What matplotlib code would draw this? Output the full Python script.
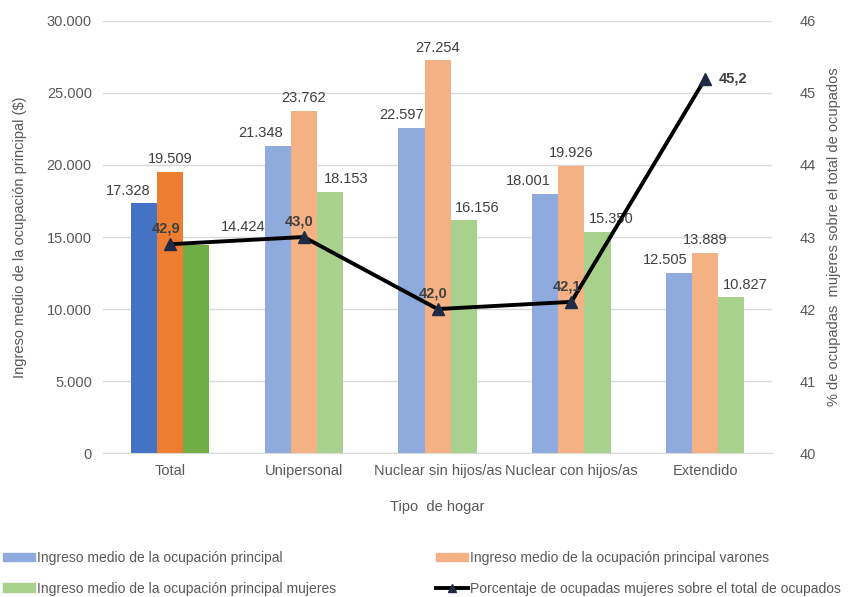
import numpy as np
import matplotlib.pyplot as plt

plt.rcParams['font.family'] = ['Liberation Sans', 'DejaVu Sans']

categorias = ["Total", "Unipersonal", "Nuclear sin hijos/as", "Nuclear con hijos/as", "Extendido"]
ingreso_total = [17328, 21348, 22597, 18001, 12505]
ingreso_varones = [19509, 23762, 27254, 19926, 13889]
ingreso_mujeres = [14424, 18153, 16156, 15350, 10827]
pct_mujeres = [42.9, 43.0, 42.0, 42.1, 45.2]

def fmt_miles(v):
    return f"{v:,.0f}".replace(",", ".")

gris = "#595959"
x = np.arange(len(categorias))
ancho = 0.195

fig = plt.figure(figsize=(8.58, 5.97), dpi=100)
ax = fig.add_axes([0.120, 0.241, 0.780, 0.724])
ax2 = ax.twinx()

col_fuerte = ["#4472C4", "#ED7D31", "#70AD47"]
col_claro = ["#8FAADC", "#F4B183", "#A9D18E"]
series = [ingreso_total, ingreso_varones, ingreso_mujeres]
nombres = ["Ingreso medio de la ocupación principal",
           "Ingreso medio de la ocupación principal varones",
           "Ingreso medio de la ocupación principal mujeres"]
# desplazamiento horizontal (pt) de las etiquetas de cada serie
desplaz = [[-11, -12, -7, -12, -10],
           [0, 0, 0, 0, 0],
           [34, 12, 10, 10, 10]]

barras = []
for k, datos in enumerate(series):
    colores = [col_fuerte[k]] + [col_claro[k]] * (len(categorias) - 1)
    b = ax.bar(x + (k - 1) * ancho, datos, ancho, color=colores, label=nombres[k], zorder=2)
    barras.append(b)
    for i, (xi, v) in enumerate(zip(x + (k - 1) * ancho, datos)):
        dy = 8 if (k == 2 and i == 0) else 4
        ax.annotate(fmt_miles(v), (xi, v), xytext=(desplaz[k][i], dy),
                    textcoords="offset points", ha="center", va="bottom",
                    fontsize=10.5, color="#404040")

ax.set_ylim(0, 30000)
ax.set_yticks(np.arange(0, 30001, 5000))
ax.set_yticklabels([fmt_miles(v) for v in np.arange(0, 30001, 5000)])
ax.set_xlim(-0.5, len(categorias) - 0.5)
ax.set_xticks(x)
ax.set_xticklabels(categorias)
ax.grid(axis="y", color="#D9D9D9", linewidth=1, zorder=0)
ax.set_axisbelow(True)
for s in ["top", "right", "left"]:
    ax.spines[s].set_visible(False)
ax.spines["bottom"].set_color("#D9D9D9")
ax.tick_params(axis="both", length=0, colors=gris, labelsize=10.5, pad=8)
ax.set_ylabel("Ingreso medio de la ocupación principal ($)", color=gris, fontsize=10.5, labelpad=14)
ax.set_xlabel("Tipo  de hogar", color=gris, fontsize=10.5, labelpad=16)

linea, = ax2.plot(x, pct_mujeres, color="black", linewidth=2.8, marker="^",
                  markersize=9, markerfacecolor="#1F2A44", markeredgecolor="#1F2A44",
                  label="Porcentaje de ocupadas mujeres sobre el total de ocupados", zorder=3)
for i, v in enumerate(pct_mujeres):
    txt = f"{v:.1f}".replace(".", ",")
    if i == len(pct_mujeres) - 1:
        ax2.annotate(txt, (x[i], v), xytext=(10, 0), textcoords="offset points",
                     ha="left", va="center", fontsize=10.5, fontweight="bold", color="#404040")
    else:
        ax2.annotate(txt, (x[i], v), xytext=(-3, 6), textcoords="offset points",
                     ha="center", va="bottom", fontsize=10.5, fontweight="bold", color="#404040")
ax2.set_ylim(40, 46)
ax2.set_yticks(range(40, 47))
for s in ["top", "right", "left", "bottom"]:
    ax2.spines[s].set_visible(False)
ax2.tick_params(axis="y", length=0, colors=gris, labelsize=10.5, pad=20)
ax2.set_ylabel("% de ocupadas  mujeres sobre el total de ocupados", color=gris,
               fontsize=10.5, labelpad=8)

# orden por filas: fila 1 total y varones, fila 2 mujeres y porcentaje
handles = [barras[0], barras[2], barras[1], linea]
etiquetas = [nombres[0], nombres[2], nombres[1],
             "Porcentaje de ocupadas mujeres sobre el total de ocupados"]
leg = fig.legend(handles, etiquetas, loc="lower left", bbox_to_anchor=(-0.008, -0.014),
                 ncol=2, frameon=False, fontsize=10, labelcolor=gris, handlelength=2.3,
                 handletextpad=0.15, columnspacing=7.2, handleheight=0.6, labelspacing=1.2,
                 borderaxespad=0.3, markerscale=0.6)
for h, c in zip(leg.legend_handles[:3], [col_claro[0], col_claro[2], col_claro[1]]):
    h.set_color(c)

fig.savefig("out.png", dpi=100)
